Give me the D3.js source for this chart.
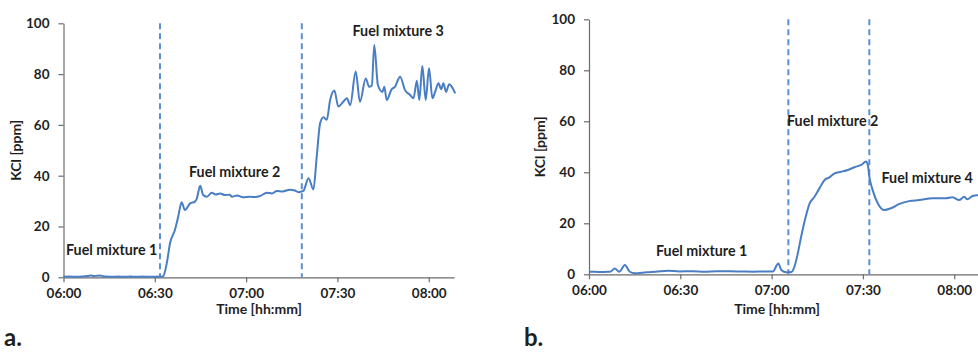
<!DOCTYPE html>
<html>
<head>
<meta charset="utf-8">
<script src="https://cdn.jsdelivr.net/npm/d3@7"></script>
<style>
  html, body { margin: 0; padding: 0; background: #fff; }
  svg { display: block; }
  text { font-family: Lato, "Open Sans", sans-serif; font-weight: bold; fill: #1f1f1f; }
</style>
</head>
<body>
<svg id="chart" width="978" height="352"></svg>
<script>
// ---- data (minutes after 06:00, KCl in ppm) ----
const timeA = [0,2,4,6,8,9,10,11,12,13,14,16,18,20,22,24,26,28,30,31,32,32.8,34,35,36.6,37.7,38.8,39.9,41.6,43.2,43.8,44.9,45.9,47.1,48.7,50,51.5,53,54.7,55.3,57,59,61.3,63,64.6,66.8,68.5,70.1,72,74.4,76,77.2,78.8,80.5,82.1,83.2,84.3,85.4,86.5,87.6,89,90.3,91.9,93.1,94.2,96,97.4,99.3,100.4,101.3,102.1,103.3,104.8,105.4,106.2,107.8,108.9,110.6,112.2,113.9,115,116.1,116.9,117.9,119,120.1,121.2,122.1,123.2,124.1,124.8,125.7,126.7,127.6,128.7];
const kclA = [0.2,0.3,0.2,0.3,0.5,0.7,0.5,0.6,0.7,0.4,0.3,0.2,0.3,0.2,0.3,0.2,0.3,0.2,0.2,0.3,0.2,0.5,6,13.4,18.6,23.9,29.5,26.5,29.1,29.8,31,36,32.4,31.7,33.3,32.6,33,32.4,32.5,31.7,32.2,31.5,31.7,31.6,32,33.3,33,34,33.8,34.5,34.2,33.5,34,39,34.6,47.5,60.6,63,62,69.8,73.5,67.2,69.1,70.5,67.8,81,69.1,78.3,75,75.5,91.5,75.7,73,75,69.8,74,75,79,73.7,71.8,70.5,77.4,69.8,83.2,69.8,82.3,70.5,73,76.4,74,76.4,73,76,75,72.4];
const switchA = [31.7, 78.3];
const labelsA = ["Fuel mixture 1", "Fuel mixture 2", "Fuel mixture 3"];

const timeB = [0,2,4,6,6.9,8.5,9.9,11.8,13.4,15.1,18.9,22,26,29.7,34,38,42,46.2,50,54,58,60.4,62.2,63.2,64.8,66.5,67.5,68.6,69.7,70.8,72.5,74.1,75.7,77.4,79,80.7,82.8,85,87.2,89.4,91,91.6,92.1,93.2,94.9,97,99.2,102,105.2,108.5,112.9,117.3,119.4,121.6,123.3,124.3,126,127.6,129];
const kclB = [1,1,0.9,1,1,2.3,1,3.6,1,0.4,0.8,1,1.4,1.1,1.2,1,1.2,1.2,1.1,1,1.1,1.1,4.2,1.7,0.8,0.9,3,8.2,14.7,20.6,27.8,30.4,33.7,37,38,39.6,40.2,40.9,42,42.9,44.2,42.9,38.3,33,27.8,25.2,25.9,27.6,28.7,29.1,29.8,29.8,30.2,29.1,30.4,29.4,30.7,31,31];
const switchB = [65.5, 92.1];
const labelsB = ["Fuel mixture 1", "Fuel mixture 2", "Fuel mixture 4"];

const xTicks = [0, 30, 60, 90, 120];
const yTicks = [0, 20, 40, 60, 80, 100];
const panelLetters = ["a.", "b."];
const yTitle = "KCl [ppm]";
const xTitle = "Time [hh:mm]";

// ---- layout ----
const svg = d3.select("#chart");
const fmt = m => {
  const h = 6 + Math.floor(m / 60), mm = m % 60;
  return String(h).padStart(2, "0") + ":" + String(mm).padStart(2, "0");
};

const panels = [
  { time: timeA, kcl: kclA, sw: switchA, labels: labelsA,
    x0: 63.5, yTop: 23.3, yBot: 277.3,
    labelPos: [[66, 255], [189, 176.7], [352.5, 36]],
    yTitleX: 21, xTitleX: 259, letterX: 4 },
  { time: timeB, kcl: kclB, sw: switchB, labels: labelsB,
    x0: 589, yTop: 19.3, yBot: 274.3,
    labelPos: [[656, 256], [787, 126], [881.5, 183.3]],
    yTitleX: 545, xTitleX: 777, letterX: 524 }
];

const xSpan = 390.5, domainEnd = 128.3;

panels.forEach((p, i) => {
  const x = d3.scaleLinear().domain([0, domainEnd]).range([p.x0, p.x0 + xSpan]);
  const y = d3.scaleLinear().domain([0, 100]).range([p.yBot, p.yTop]);
  const g = svg.append("g");

  // y axis
  const ya = g.append("g").attr("transform", `translate(${p.x0},0)`)
    .call(d3.axisLeft(y).tickValues(yTicks).tickSize(5).tickSizeOuter(0).tickPadding(9));
  // x axis
  const xa = g.append("g").attr("transform", `translate(0,${p.yBot})`)
    .call(d3.axisBottom(x).tickValues(xTicks).tickSize(5).tickSizeOuter(0).tickPadding(6).tickFormat(fmt));
  [ya, xa].forEach(a => {
    a.select(".domain").attr("stroke", "#6b6b6b").attr("stroke-width", 1.2);
    a.selectAll(".tick line").attr("stroke", "#6b6b6b").attr("stroke-width", 1.2);
    a.selectAll(".tick text").style("font-family", "Lato, 'Open Sans', sans-serif")
      .style("font-weight", "bold").style("font-size", "13.5px").attr("fill", "#1f1f1f");
  });

  // switch lines
  g.selectAll("line.sw").data(p.sw).join("line")
    .attr("class", "sw")
    .attr("x1", d => x(d)).attr("x2", d => x(d))
    .attr("y1", y(100)).attr("y2", y(0))
    .attr("stroke", "#5b8fd3").attr("stroke-width", 2)
    .attr("stroke-dasharray", "6,4");

  // data line
  const line = d3.line().x((d, j) => x(p.time[j])).y(d => y(d)).curve(d3.curveMonotoneX);
  g.append("path").datum(p.kcl)
    .attr("d", line)
    .attr("fill", "none").attr("stroke", "#4a7ec4").attr("stroke-width", 2)
    .attr("stroke-linejoin", "round");

  // fuel mixture labels
  g.selectAll("text.fm").data(p.labels).join("text")
    .attr("class", "fm")
    .attr("x", (d, j) => p.labelPos[j][0]).attr("y", (d, j) => p.labelPos[j][1])
    .style("font-size", "14.3px")
    .text(d => d);

  // axis titles
  g.append("text")
    .attr("transform", `translate(${p.yTitleX},${(p.yTop + p.yBot) / 2}) rotate(-90)`)
    .attr("text-anchor", "middle").style("font-size", "14px").text(yTitle);
  g.append("text")
    .attr("x", p.xTitleX).attr("y", 314)
    .attr("text-anchor", "middle").style("font-size", "14px").text(xTitle);

  // panel letter
  g.append("text").attr("x", p.letterX).attr("y", 346)
    .style("font-size", "24px").text(panelLetters[i]);
});
</script>
</body>
</html>
